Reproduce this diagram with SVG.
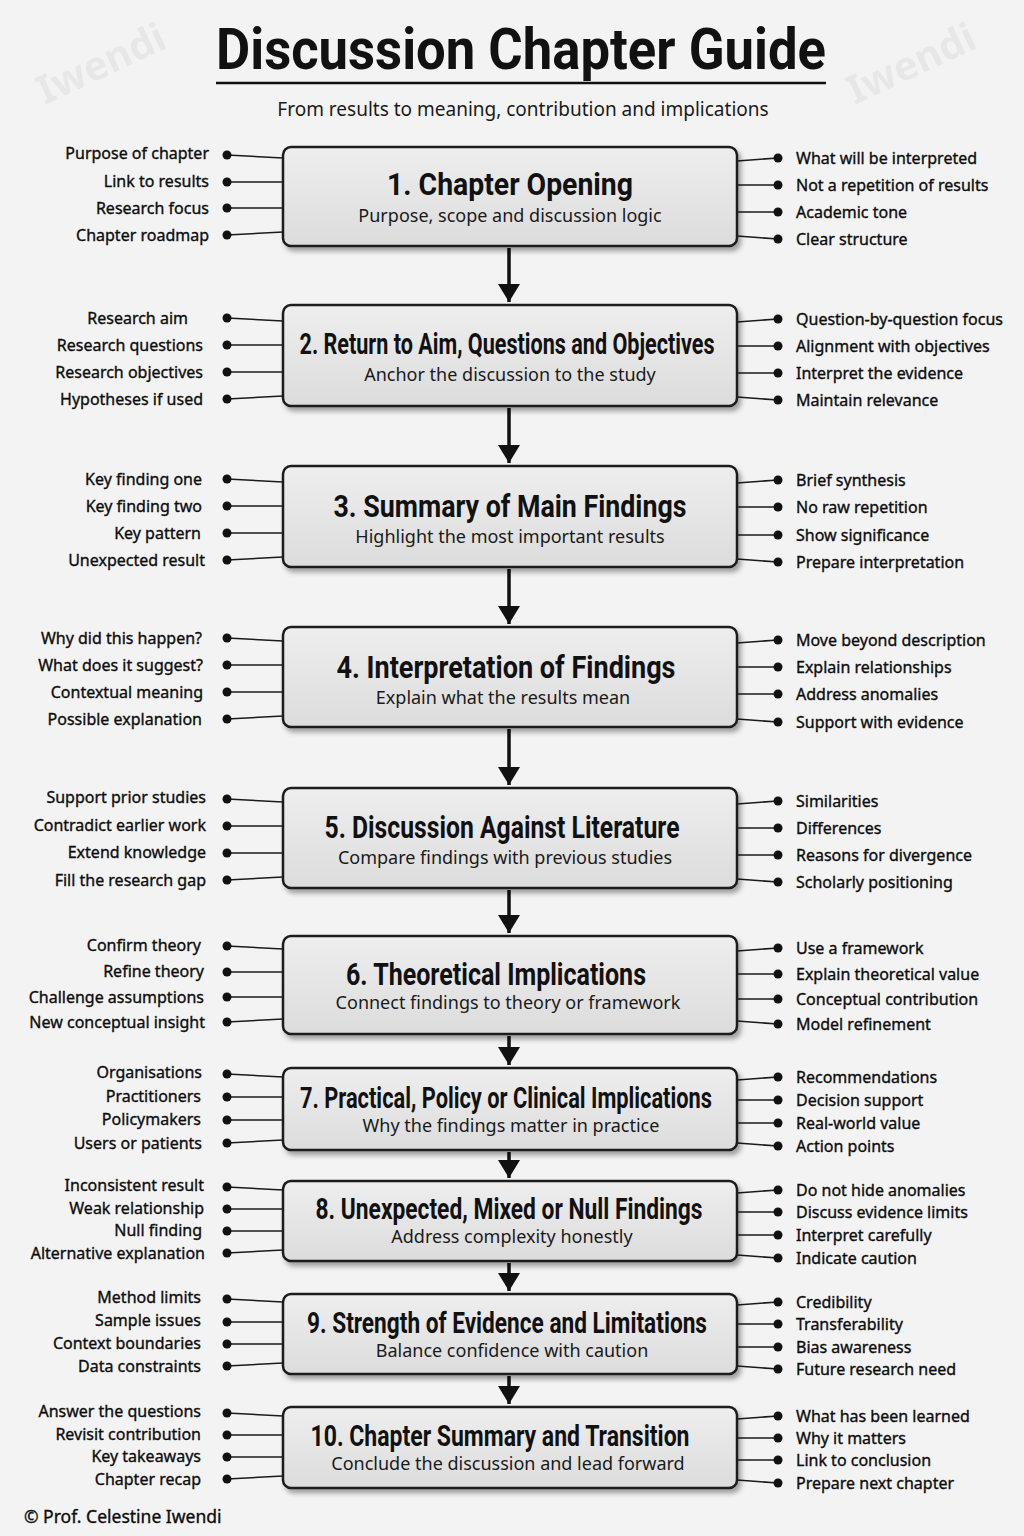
<svg xmlns="http://www.w3.org/2000/svg" width="1024" height="1536" viewBox="0 0 1024 1536">
<defs>
<linearGradient id="boxg" x1="0" y1="0" x2="0" y2="1">
<stop offset="0" stop-color="#eeeeee"/>
<stop offset="1" stop-color="#dcdcdc"/>
</linearGradient>
<filter id="sh" x="-5%" y="-10%" width="112%" height="130%">
<feDropShadow dx="3" dy="4" stdDeviation="2.5" flood-color="#000" flood-opacity="0.35"/>
</filter>
<marker id="ah" markerUnits="userSpaceOnUse" markerWidth="20" markerHeight="22" refX="18" refY="11" orient="auto" viewBox="0 0 20 22">
<path d="M0,0 L18,11 L0,22 Z" fill="#111"/>
</marker>
</defs>
<style>
.bg{fill:#f3f3f3}
.box{fill:url(#boxg);stroke:#1a1a1a;stroke-width:2.5;filter:url(#sh)}
.ttl{font-family:Roboto,"Liberation Sans",sans-serif;font-weight:700;fill:#111}
.sub{font-family:"Noto Sans","Open Sans",sans-serif;font-size:18px;fill:#1a1a1a}
.lab{font-family:"Noto Sans","Open Sans",sans-serif;font-size:16px;fill:#0d0d0d;stroke:#0d0d0d;stroke-width:0.35;dominant-baseline:central}
.l{text-anchor:end}
.dot{fill:#111}
.cn line{stroke:#1a1a1a;stroke-width:1.6}
.cn line.ar{stroke:#111;stroke-width:3.5}
.wm{font-family:"Noto Sans",sans-serif;font-weight:700;font-size:40px;fill:#000;opacity:0.045}
</style>
<rect class="bg" x="0" y="0" width="1024" height="1536"/>
<g id="watermarks">
<text class="wm" transform="translate(45,105) rotate(-25)">Iwendi</text>
<text class="wm" transform="translate(855,105) rotate(-25)">Iwendi</text>
</g>
<g id="header">
<text class="ttl" x="521" y="69" font-size="58" text-anchor="middle" textLength="610" lengthAdjust="spacingAndGlyphs">Discussion Chapter Guide</text>
<line x1="216" y1="83" x2="826" y2="83" stroke="#111" stroke-width="2.5"/>
<text class="sub" x="523" y="116" text-anchor="middle" style="font-size:19px">From results to meaning, contribution and implications</text>
</g>
<g id="connectors" class="cn">
<line x1="227" y1="155" x2="283" y2="158"/><line x1="227" y1="182" x2="283" y2="182"/><line x1="227" y1="208" x2="283" y2="208"/><line x1="227" y1="235" x2="283" y2="232"/>
<line x1="737" y1="161" x2="778" y2="158"/><line x1="737" y1="185" x2="778" y2="185"/><line x1="737" y1="212" x2="778" y2="212"/><line x1="737" y1="236" x2="778" y2="239"/>
<line x1="227" y1="318" x2="283" y2="321"/><line x1="227" y1="345" x2="283" y2="345"/><line x1="227" y1="372" x2="283" y2="372"/><line x1="227" y1="399" x2="283" y2="396"/>
<line x1="737" y1="322" x2="778" y2="319"/><line x1="737" y1="346" x2="778" y2="346"/><line x1="737" y1="373" x2="778" y2="373"/><line x1="737" y1="397" x2="778" y2="400"/>
<line x1="227" y1="479" x2="283" y2="482"/><line x1="227" y1="506" x2="283" y2="506"/><line x1="227" y1="533" x2="283" y2="533"/><line x1="227" y1="560" x2="283" y2="557"/>
<line x1="737" y1="483" x2="778" y2="480"/><line x1="737" y1="507" x2="778" y2="507"/><line x1="737" y1="535" x2="778" y2="535"/><line x1="737" y1="559" x2="778" y2="562"/>
<line x1="227" y1="638" x2="283" y2="641"/><line x1="227" y1="665" x2="283" y2="665"/><line x1="227" y1="692" x2="283" y2="692"/><line x1="227" y1="719" x2="283" y2="716"/>
<line x1="737" y1="643" x2="778" y2="640"/><line x1="737" y1="667" x2="778" y2="667"/><line x1="737" y1="694" x2="778" y2="694"/><line x1="737" y1="719" x2="778" y2="722"/>
<line x1="227" y1="799" x2="283" y2="802"/><line x1="227" y1="826" x2="283" y2="826"/><line x1="227" y1="853" x2="283" y2="853"/><line x1="227" y1="880" x2="283" y2="877"/>
<line x1="737" y1="804" x2="778" y2="801"/><line x1="737" y1="828" x2="778" y2="828"/><line x1="737" y1="855" x2="778" y2="855"/><line x1="737" y1="879" x2="778" y2="882"/>
<line x1="227" y1="946" x2="283" y2="949"/><line x1="227" y1="972" x2="283" y2="972"/><line x1="227" y1="997" x2="283" y2="997"/><line x1="227" y1="1022" x2="283" y2="1019"/>
<line x1="737" y1="951" x2="778" y2="948"/><line x1="737" y1="974" x2="778" y2="974"/><line x1="737" y1="999" x2="778" y2="999"/><line x1="737" y1="1021" x2="778" y2="1024"/>
<line x1="227" y1="1074" x2="283" y2="1077"/><line x1="227" y1="1097" x2="283" y2="1097"/><line x1="227" y1="1120" x2="283" y2="1120"/><line x1="227" y1="1143" x2="283" y2="1140"/>
<line x1="737" y1="1080" x2="778" y2="1077"/><line x1="737" y1="1100" x2="778" y2="1100"/><line x1="737" y1="1123" x2="778" y2="1123"/><line x1="737" y1="1143" x2="778" y2="1146"/>
<line x1="227" y1="1187" x2="283" y2="1190"/><line x1="227" y1="1209" x2="283" y2="1209"/><line x1="227" y1="1231" x2="283" y2="1231"/><line x1="227" y1="1253" x2="283" y2="1250"/>
<line x1="737" y1="1193" x2="778" y2="1190"/><line x1="737" y1="1212" x2="778" y2="1212"/><line x1="737" y1="1235" x2="778" y2="1235"/><line x1="737" y1="1255" x2="778" y2="1258"/>
<line x1="227" y1="1299" x2="283" y2="1302"/><line x1="227" y1="1322" x2="283" y2="1322"/><line x1="227" y1="1344" x2="283" y2="1344"/><line x1="227" y1="1366" x2="283" y2="1363"/>
<line x1="737" y1="1305" x2="778" y2="1302"/><line x1="737" y1="1324" x2="778" y2="1324"/><line x1="737" y1="1347" x2="778" y2="1347"/><line x1="737" y1="1366" x2="778" y2="1369"/>
<line x1="227" y1="1413" x2="283" y2="1416"/><line x1="227" y1="1435" x2="283" y2="1435"/><line x1="227" y1="1457" x2="283" y2="1457"/><line x1="227" y1="1479" x2="283" y2="1476"/>
<line x1="737" y1="1419" x2="778" y2="1416"/><line x1="737" y1="1438" x2="778" y2="1438"/><line x1="737" y1="1460" x2="778" y2="1460"/><line x1="737" y1="1480" x2="778" y2="1483"/>
<line class="ar" x1="509" y1="248" x2="509" y2="302" marker-end="url(#ah)"/>
<line class="ar" x1="509" y1="408" x2="509" y2="463" marker-end="url(#ah)"/>
<line class="ar" x1="509" y1="569" x2="509" y2="624" marker-end="url(#ah)"/>
<line class="ar" x1="509" y1="729" x2="509" y2="785" marker-end="url(#ah)"/>
<line class="ar" x1="509" y1="890" x2="509" y2="933" marker-end="url(#ah)"/>
<line class="ar" x1="509" y1="1036" x2="509" y2="1065" marker-end="url(#ah)"/>
<line class="ar" x1="509" y1="1152" x2="509" y2="1178" marker-end="url(#ah)"/>
<line class="ar" x1="509" y1="1263" x2="509" y2="1291" marker-end="url(#ah)"/>
<line class="ar" x1="509" y1="1376" x2="509" y2="1404" marker-end="url(#ah)"/>
</g>
<g id="dots">
<circle class="dot" cx="227" cy="155" r="4.5"/><circle class="dot" cx="227" cy="182" r="4.5"/><circle class="dot" cx="227" cy="208" r="4.5"/><circle class="dot" cx="227" cy="235" r="4.5"/>
<circle class="dot" cx="778" cy="158" r="4.5"/><circle class="dot" cx="778" cy="185" r="4.5"/><circle class="dot" cx="778" cy="212" r="4.5"/><circle class="dot" cx="778" cy="239" r="4.5"/>
<circle class="dot" cx="227" cy="318" r="4.5"/><circle class="dot" cx="227" cy="345" r="4.5"/><circle class="dot" cx="227" cy="372" r="4.5"/><circle class="dot" cx="227" cy="399" r="4.5"/>
<circle class="dot" cx="778" cy="319" r="4.5"/><circle class="dot" cx="778" cy="346" r="4.5"/><circle class="dot" cx="778" cy="373" r="4.5"/><circle class="dot" cx="778" cy="400" r="4.5"/>
<circle class="dot" cx="227" cy="479" r="4.5"/><circle class="dot" cx="227" cy="506" r="4.5"/><circle class="dot" cx="227" cy="533" r="4.5"/><circle class="dot" cx="227" cy="560" r="4.5"/>
<circle class="dot" cx="778" cy="480" r="4.5"/><circle class="dot" cx="778" cy="507" r="4.5"/><circle class="dot" cx="778" cy="535" r="4.5"/><circle class="dot" cx="778" cy="562" r="4.5"/>
<circle class="dot" cx="227" cy="638" r="4.5"/><circle class="dot" cx="227" cy="665" r="4.5"/><circle class="dot" cx="227" cy="692" r="4.5"/><circle class="dot" cx="227" cy="719" r="4.5"/>
<circle class="dot" cx="778" cy="640" r="4.5"/><circle class="dot" cx="778" cy="667" r="4.5"/><circle class="dot" cx="778" cy="694" r="4.5"/><circle class="dot" cx="778" cy="722" r="4.5"/>
<circle class="dot" cx="227" cy="799" r="4.5"/><circle class="dot" cx="227" cy="826" r="4.5"/><circle class="dot" cx="227" cy="853" r="4.5"/><circle class="dot" cx="227" cy="880" r="4.5"/>
<circle class="dot" cx="778" cy="801" r="4.5"/><circle class="dot" cx="778" cy="828" r="4.5"/><circle class="dot" cx="778" cy="855" r="4.5"/><circle class="dot" cx="778" cy="882" r="4.5"/>
<circle class="dot" cx="227" cy="946" r="4.5"/><circle class="dot" cx="227" cy="972" r="4.5"/><circle class="dot" cx="227" cy="997" r="4.5"/><circle class="dot" cx="227" cy="1022" r="4.5"/>
<circle class="dot" cx="778" cy="948" r="4.5"/><circle class="dot" cx="778" cy="974" r="4.5"/><circle class="dot" cx="778" cy="999" r="4.5"/><circle class="dot" cx="778" cy="1024" r="4.5"/>
<circle class="dot" cx="227" cy="1074" r="4.5"/><circle class="dot" cx="227" cy="1097" r="4.5"/><circle class="dot" cx="227" cy="1120" r="4.5"/><circle class="dot" cx="227" cy="1143" r="4.5"/>
<circle class="dot" cx="778" cy="1077" r="4.5"/><circle class="dot" cx="778" cy="1100" r="4.5"/><circle class="dot" cx="778" cy="1123" r="4.5"/><circle class="dot" cx="778" cy="1146" r="4.5"/>
<circle class="dot" cx="227" cy="1187" r="4.5"/><circle class="dot" cx="227" cy="1209" r="4.5"/><circle class="dot" cx="227" cy="1231" r="4.5"/><circle class="dot" cx="227" cy="1253" r="4.5"/>
<circle class="dot" cx="778" cy="1190" r="4.5"/><circle class="dot" cx="778" cy="1212" r="4.5"/><circle class="dot" cx="778" cy="1235" r="4.5"/><circle class="dot" cx="778" cy="1258" r="4.5"/>
<circle class="dot" cx="227" cy="1299" r="4.5"/><circle class="dot" cx="227" cy="1322" r="4.5"/><circle class="dot" cx="227" cy="1344" r="4.5"/><circle class="dot" cx="227" cy="1366" r="4.5"/>
<circle class="dot" cx="778" cy="1302" r="4.5"/><circle class="dot" cx="778" cy="1324" r="4.5"/><circle class="dot" cx="778" cy="1347" r="4.5"/><circle class="dot" cx="778" cy="1369" r="4.5"/>
<circle class="dot" cx="227" cy="1413" r="4.5"/><circle class="dot" cx="227" cy="1435" r="4.5"/><circle class="dot" cx="227" cy="1457" r="4.5"/><circle class="dot" cx="227" cy="1479" r="4.5"/>
<circle class="dot" cx="778" cy="1416" r="4.5"/><circle class="dot" cx="778" cy="1438" r="4.5"/><circle class="dot" cx="778" cy="1460" r="4.5"/><circle class="dot" cx="778" cy="1483" r="4.5"/>
</g>
<g id="node1">
<rect class="box" x="283" y="147" width="454" height="99" rx="8"/>
<text class="ttl" x="510" y="195" font-size="31" text-anchor="middle" textLength="246" lengthAdjust="spacingAndGlyphs">1. Chapter Opening</text>
<text class="sub" x="510" y="222" text-anchor="middle">Purpose, scope and discussion logic</text>
<text class="lab l" x="209" y="153">Purpose of chapter</text><text class="lab l" x="209" y="181">Link to results</text><text class="lab l" x="209" y="208">Research focus</text><text class="lab l" x="209" y="235">Chapter roadmap</text>
<text class="lab" x="796" y="158">What will be interpreted</text><text class="lab" x="796" y="185">Not a repetition of results</text><text class="lab" x="796" y="212">Academic tone</text><text class="lab" x="796" y="239">Clear structure</text>
</g>
<g id="node2">
<rect class="box" x="283" y="305" width="454" height="101" rx="8"/>
<text class="ttl" x="507" y="354" font-size="29" text-anchor="middle" textLength="415" lengthAdjust="spacingAndGlyphs">2. Return to Aim, Questions and Objectives</text>
<text class="sub" x="510" y="381" text-anchor="middle">Anchor the discussion to the study</text>
<text class="lab l" x="188" y="318">Research aim</text><text class="lab l" x="203" y="345">Research questions</text><text class="lab l" x="203" y="372">Research objectives</text><text class="lab l" x="203" y="399">Hypotheses if used</text>
<text class="lab" x="796" y="319">Question-by-question focus</text><text class="lab" x="796" y="346">Alignment with objectives</text><text class="lab" x="796" y="373">Interpret the evidence</text><text class="lab" x="796" y="400">Maintain relevance</text>
</g>
<g id="node3">
<rect class="box" x="283" y="466" width="454" height="101" rx="8"/>
<text class="ttl" x="510" y="517" font-size="31" text-anchor="middle" textLength="353" lengthAdjust="spacingAndGlyphs">3. Summary of Main Findings</text>
<text class="sub" x="510" y="543" text-anchor="middle">Highlight the most important results</text>
<text class="lab l" x="202" y="479">Key finding one</text><text class="lab l" x="202" y="506">Key finding two</text><text class="lab l" x="201" y="533">Key pattern</text><text class="lab l" x="205" y="560">Unexpected result</text>
<text class="lab" x="796" y="480">Brief synthesis</text><text class="lab" x="796" y="507">No raw repetition</text><text class="lab" x="796" y="535">Show significance</text><text class="lab" x="796" y="562">Prepare interpretation</text>
</g>
<g id="node4">
<rect class="box" x="283" y="627" width="454" height="100" rx="8"/>
<text class="ttl" x="506" y="678" font-size="31" text-anchor="middle" textLength="339" lengthAdjust="spacingAndGlyphs">4. Interpretation of Findings</text>
<text class="sub" x="503" y="704" text-anchor="middle">Explain what the results mean</text>
<text class="lab l" x="202" y="638">Why did this happen?</text><text class="lab l" x="203" y="665">What does it suggest?</text><text class="lab l" x="203" y="692">Contextual meaning</text><text class="lab l" x="202" y="719">Possible explanation</text>
<text class="lab" x="796" y="640">Move beyond description</text><text class="lab" x="796" y="667">Explain relationships</text><text class="lab" x="796" y="694">Address anomalies</text><text class="lab" x="796" y="722">Support with evidence</text>
</g>
<g id="node5">
<rect class="box" x="283" y="788" width="454" height="100" rx="8"/>
<text class="ttl" x="502" y="838" font-size="31" text-anchor="middle" textLength="355" lengthAdjust="spacingAndGlyphs">5. Discussion Against Literature</text>
<text class="sub" x="505" y="864" text-anchor="middle">Compare findings with previous studies</text>
<text class="lab l" x="206" y="797">Support prior studies</text><text class="lab l" x="206" y="825">Contradict earlier work</text><text class="lab l" x="206" y="852">Extend knowledge</text><text class="lab l" x="206" y="880">Fill the research gap</text>
<text class="lab" x="796" y="801">Similarities</text><text class="lab" x="796" y="828">Differences</text><text class="lab" x="796" y="855">Reasons for divergence</text><text class="lab" x="796" y="882">Scholarly positioning</text>
</g>
<g id="node6">
<rect class="box" x="283" y="936" width="454" height="98" rx="8"/>
<text class="ttl" x="496" y="985" font-size="31" text-anchor="middle" textLength="300" lengthAdjust="spacingAndGlyphs">6. Theoretical Implications</text>
<text class="sub" x="508" y="1009" text-anchor="middle">Connect findings to theory or framework</text>
<text class="lab l" x="201" y="945">Confirm theory</text><text class="lab l" x="204" y="971">Refine theory</text><text class="lab l" x="204" y="997">Challenge assumptions</text><text class="lab l" x="205" y="1022">New conceptual insight</text>
<text class="lab" x="796" y="948">Use a framework</text><text class="lab" x="796" y="974">Explain theoretical value</text><text class="lab" x="796" y="999">Conceptual contribution</text><text class="lab" x="796" y="1024">Model refinement</text>
</g>
<g id="node7">
<rect class="box" x="283" y="1068" width="454" height="82" rx="8"/>
<text class="ttl" x="506" y="1108" font-size="29" text-anchor="middle" textLength="412" lengthAdjust="spacingAndGlyphs">7. Practical, Policy or Clinical Implications</text>
<text class="sub" x="511" y="1132" text-anchor="middle">Why the findings matter in practice</text>
<text class="lab l" x="202" y="1072">Organisations</text><text class="lab l" x="201" y="1096">Practitioners</text><text class="lab l" x="201" y="1119">Policymakers</text><text class="lab l" x="202" y="1143">Users or patients</text>
<text class="lab" x="796" y="1077">Recommendations</text><text class="lab" x="796" y="1100">Decision support</text><text class="lab" x="796" y="1123">Real-world value</text><text class="lab" x="796" y="1146">Action points</text>
</g>
<g id="node8">
<rect class="box" x="283" y="1181" width="454" height="80" rx="8"/>
<text class="ttl" x="509" y="1219" font-size="29" text-anchor="middle" textLength="387" lengthAdjust="spacingAndGlyphs">8. Unexpected, Mixed or Null Findings</text>
<text class="sub" x="512" y="1243" text-anchor="middle">Address complexity honestly</text>
<text class="lab l" x="204" y="1185">Inconsistent result</text><text class="lab l" x="204" y="1208">Weak relationship</text><text class="lab l" x="202" y="1230">Null finding</text><text class="lab l" x="205" y="1253">Alternative explanation</text>
<text class="lab" x="796" y="1190">Do not hide anomalies</text><text class="lab" x="796" y="1212">Discuss evidence limits</text><text class="lab" x="796" y="1235">Interpret carefully</text><text class="lab" x="796" y="1258">Indicate caution</text>
</g>
<g id="node9">
<rect class="box" x="283" y="1294" width="454" height="80" rx="8"/>
<text class="ttl" x="507" y="1333" font-size="29" text-anchor="middle" textLength="400" lengthAdjust="spacingAndGlyphs">9. Strength of Evidence and Limitations</text>
<text class="sub" x="512" y="1357" text-anchor="middle">Balance confidence with caution</text>
<text class="lab l" x="201" y="1297">Method limits</text><text class="lab l" x="201" y="1320">Sample issues</text><text class="lab l" x="201" y="1343">Context boundaries</text><text class="lab l" x="201" y="1366">Data constraints</text>
<text class="lab" x="796" y="1302">Credibility</text><text class="lab" x="796" y="1324">Transferability</text><text class="lab" x="796" y="1347">Bias awareness</text><text class="lab" x="796" y="1369">Future research need</text>
</g>
<g id="node10">
<rect class="box" x="283" y="1407" width="454" height="81" rx="8"/>
<text class="ttl" x="500" y="1446" font-size="29" text-anchor="middle" textLength="379" lengthAdjust="spacingAndGlyphs">10. Chapter Summary and Transition</text>
<text class="sub" x="508" y="1470" text-anchor="middle">Conclude the discussion and lead forward</text>
<text class="lab l" x="201" y="1411">Answer the questions</text><text class="lab l" x="201" y="1434">Revisit contribution</text><text class="lab l" x="201" y="1456">Key takeaways</text><text class="lab l" x="201" y="1479">Chapter recap</text>
<text class="lab" x="796" y="1416">What has been learned</text><text class="lab" x="796" y="1438">Why it matters</text><text class="lab" x="796" y="1460">Link to conclusion</text><text class="lab" x="796" y="1483">Prepare next chapter</text>
</g>
<g id="footer">
<text class="lab" x="24" y="1516" style="font-size:17.5px">© Prof. Celestine Iwendi</text>
</g>
</svg>
